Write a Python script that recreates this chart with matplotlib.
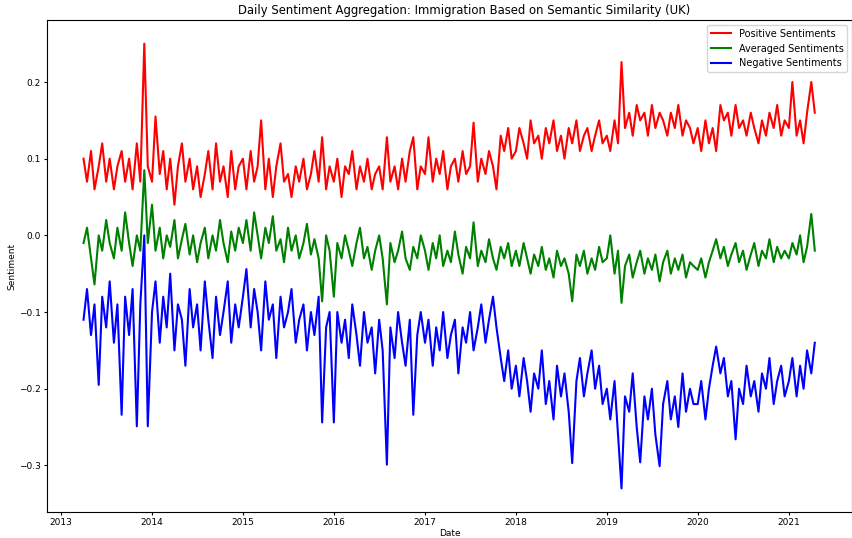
import pandas as pd
import matplotlib.pyplot as plt

# semi-monthly readings from the chart, Apr 2013 .. Apr 2021
positive = [
    0.10, 0.07, 0.11, 0.06, 0.09, 0.12, 0.07, 0.10, 0.06, 0.09, 0.11, 0.07, 0.10, 0.06, 0.12, 0.07, 0.25, 0.09,
    0.07, 0.155, 0.08, 0.11, 0.06, 0.10, 0.04, 0.09, 0.12, 0.07, 0.10, 0.06, 0.09, 0.05, 0.08, 0.11, 0.06, 0.12, 0.07, 0.09, 0.05, 0.11, 0.06, 0.09,
    0.10, 0.06, 0.11, 0.07, 0.09, 0.15, 0.06, 0.10, 0.05, 0.09, 0.12, 0.07, 0.08, 0.05, 0.09, 0.07, 0.10, 0.06, 0.08, 0.11, 0.07, 0.128, 0.06, 0.09,
    0.07, 0.10, 0.05, 0.09, 0.08, 0.11, 0.06, 0.09, 0.07, 0.10, 0.06, 0.08, 0.09, 0.06, 0.128, 0.07, 0.09, 0.06, 0.10, 0.07, 0.11, 0.128, 0.06, 0.09,
    0.08, 0.128, 0.07, 0.10, 0.08, 0.11, 0.06, 0.09, 0.10, 0.07, 0.11, 0.08, 0.09, 0.147, 0.07, 0.10, 0.08, 0.11, 0.09, 0.06, 0.13, 0.11, 0.14, 0.10,
    0.11, 0.14, 0.12, 0.10, 0.15, 0.12, 0.13, 0.10, 0.14, 0.12, 0.15, 0.11, 0.13, 0.10, 0.14, 0.12, 0.15, 0.11, 0.13, 0.14, 0.11, 0.13, 0.15, 0.12,
    0.13, 0.11, 0.15, 0.12, 0.226, 0.14, 0.16, 0.13, 0.17, 0.15, 0.16, 0.13, 0.17, 0.14, 0.16, 0.15, 0.13, 0.16, 0.14, 0.17, 0.13, 0.15, 0.14, 0.12,
    0.14, 0.11, 0.15, 0.12, 0.14, 0.11, 0.17, 0.15, 0.16, 0.13, 0.17, 0.14, 0.15, 0.13, 0.16, 0.14, 0.12, 0.15, 0.13, 0.16, 0.14, 0.17, 0.13, 0.15,
    0.14, 0.20, 0.13, 0.15, 0.12, 0.16, 0.20, 0.16,
]
averaged = [
    -0.01, 0.01, -0.03, -0.064, 0.0, -0.02, 0.02, -0.01, -0.03, 0.01, -0.02, 0.03, -0.01, -0.04, 0.0, -0.02, 0.085, -0.01,
    0.04, -0.02, 0.01, -0.03, 0.0, -0.015, 0.02, -0.03, -0.005, 0.015, -0.025, 0.0, -0.035, -0.01, 0.01, -0.03, 0.0, -0.02, 0.02, -0.01, -0.035, 0.005, -0.02, 0.01,
    -0.01, 0.02, -0.02, 0.03, 0.0, -0.03, 0.01, -0.01, 0.025, -0.02, -0.005, -0.035, 0.01, -0.02, 0.0, -0.03, -0.01, 0.015, -0.025, -0.005, -0.03, -0.086, 0.0, -0.02,
    -0.08, -0.01, -0.03, 0.0, -0.02, -0.04, -0.01, 0.01, -0.03, -0.015, -0.045, -0.02, 0.0, -0.03, -0.09, -0.01, -0.035, -0.02, 0.005, -0.03, -0.045, -0.015, -0.03, 0.0,
    -0.02, -0.045, -0.01, -0.03, 0.0, -0.04, -0.02, -0.035, 0.005, -0.025, -0.05, -0.015, -0.03, 0.017, -0.04, -0.02, -0.035, -0.005, -0.03, -0.045, -0.015, -0.03, -0.01, -0.04,
    -0.02, -0.04, -0.01, -0.03, -0.05, -0.025, -0.04, -0.015, -0.045, -0.03, -0.055, -0.02, -0.04, -0.03, -0.05, -0.086, -0.025, -0.04, -0.02, -0.05, -0.03, -0.045, -0.015, -0.035,
    -0.03, 0.0, -0.05, -0.02, -0.088, -0.04, -0.025, -0.055, -0.035, -0.02, -0.05, -0.03, -0.045, -0.025, -0.06, -0.035, -0.02, -0.05, -0.03, -0.045, -0.025, -0.055, -0.035, -0.04,
    -0.045, -0.03, -0.055, -0.035, -0.02, -0.005, -0.03, -0.015, -0.04, -0.025, -0.01, -0.035, -0.02, -0.045, -0.025, -0.01, -0.04, -0.02, -0.03, -0.005, -0.035, -0.015, -0.03, -0.02,
    -0.03, -0.01, -0.025, 0.0, -0.035, -0.015, 0.028, -0.02,
]
negative = [
    -0.11, -0.07, -0.13, -0.09, -0.195, -0.08, -0.12, -0.06, -0.14, -0.09, -0.234, -0.08, -0.13, -0.07, -0.249, -0.09, 0.0, -0.249,
    -0.10, -0.06, -0.14, -0.08, -0.12, -0.05, -0.15, -0.09, -0.11, -0.17, -0.07, -0.12, -0.09, -0.15, -0.06, -0.11, -0.16, -0.08, -0.13, -0.10, -0.06, -0.14, -0.09, -0.12,
    -0.08, -0.044, -0.12, -0.07, -0.10, -0.15, -0.06, -0.11, -0.09, -0.16, -0.08, -0.12, -0.10, -0.07, -0.14, -0.11, -0.09, -0.15, -0.10, -0.13, -0.08, -0.244, -0.12, -0.10,
    -0.244, -0.10, -0.14, -0.11, -0.16, -0.09, -0.13, -0.17, -0.10, -0.14, -0.12, -0.18, -0.11, -0.15, -0.299, -0.12, -0.16, -0.10, -0.14, -0.17, -0.11, -0.234, -0.13, -0.10,
    -0.14, -0.11, -0.17, -0.12, -0.15, -0.10, -0.16, -0.13, -0.11, -0.18, -0.12, -0.14, -0.10, -0.15, -0.12, -0.09, -0.14, -0.11, -0.08, -0.12, -0.16, -0.19, -0.15, -0.20,
    -0.17, -0.21, -0.16, -0.19, -0.23, -0.18, -0.20, -0.15, -0.22, -0.19, -0.24, -0.17, -0.21, -0.18, -0.23, -0.297, -0.19, -0.16, -0.21, -0.18, -0.15, -0.20, -0.17, -0.22,
    -0.20, -0.24, -0.19, -0.26, -0.33, -0.21, -0.23, -0.18, -0.25, -0.296, -0.21, -0.24, -0.20, -0.26, -0.301, -0.22, -0.19, -0.24, -0.21, -0.25, -0.18, -0.23, -0.20, -0.22,
    -0.22, -0.19, -0.24, -0.20, -0.17, -0.145, -0.18, -0.16, -0.21, -0.19, -0.266, -0.20, -0.22, -0.17, -0.21, -0.19, -0.23, -0.18, -0.20, -0.16, -0.22, -0.19, -0.17, -0.21,
    -0.19, -0.16, -0.21, -0.17, -0.20, -0.15, -0.18, -0.14,
]

dates = pd.date_range('2013-04-01', periods=len(positive), freq='SMS')

plt.rcParams['font.size'] = 7
fig = plt.figure(figsize=(8.53, 5.38), dpi=100)
ax = fig.add_axes([0.055, 0.048, 0.944, 0.915])

ax.plot(dates, positive, color='red', lw=1.5, label='Positive Sentiments')
ax.plot(dates, averaged, color='green', lw=1.5, label='Averaged Sentiments')
ax.plot(dates, negative, color='blue', lw=1.5, label='Negative Sentiments')

ax.set_xlim(pd.Timestamp('2012-11-05'), pd.Timestamp('2021-09-12'))
ax.set_ylim(-0.361, 0.281)
ax.tick_params(labelsize=6.5, length=2.5, pad=2)
# title sits a bit right of centre in the reference (original was cropped on the right)
ax.set_title('Daily Sentiment Aggregation: Immigration Based on Semantic Similarity (UK)',
             fontsize=8.4, pad=4, x=0.518)
ax.set_xlabel('Date', fontsize=6.5, labelpad=1)
ax.set_ylabel('Sentiment', fontsize=6.5, labelpad=2)
ax.legend(loc='upper right', fontsize=7)

fig.savefig('out.png', dpi=100)
